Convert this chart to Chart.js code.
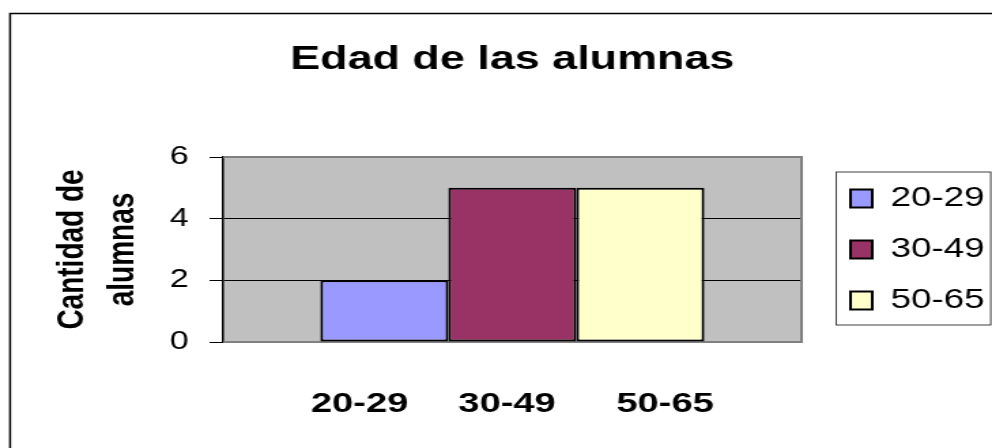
<!DOCTYPE html>
<html>
<head>
<meta charset="utf-8">
<script src="https://cdn.jsdelivr.net/npm/chart.js@4.4.1/dist/chart.umd.min.js"></script>
<style>
  html, body { margin: 0; padding: 0; background: #fff; overflow: hidden; }
  #chart { display: block; transform-origin: 0 0; }
</style>
</head>
<body>
<canvas id="chart" width="729" height="448"></canvas>
<script>
// Data
const ageGroups = ['20-29', '30-49', '50-65'];
const studentCounts = [2, 5, 5];
const barColors = ['#9999FF', '#993366', '#FFFFCC'];
const categories = ['20-29    \u200930-49     \u200950-65'];
const yTicks = [0, 2, 4, 6];

// The Excel picture is stretched sideways, so draw narrow and stretch the canvas
const STRETCH = 992 / 729;
const canvas = document.getElementById('chart');
canvas.style.transform = `scaleX(${STRETCH})`;

Chart.defaults.font.family = "'Liberation Sans', Arial, sans-serif";
Chart.defaults.color = '#000';

/**
 * Grey plot background, plot frame, outer border and legend box
 */
const excelFrame = {
    id: 'excelFrame',
    afterLayout(chart) {
        // title is centred over the plot, not the whole canvas
        const t = chart.titleBlock;
        t.left = chart.chartArea.left;
        t.right = chart.chartArea.right;
    },
    beforeDraw(chart) {
        const { ctx, chartArea: a } = chart;
        ctx.save();
        ctx.fillStyle = '#C0C0C0';
        ctx.fillRect(a.left, a.top, a.right - a.left, a.bottom - a.top);
        ctx.strokeStyle = '#000';
        ctx.lineWidth = 1.5;
        ctx.strokeRect(7.4, 13.5, chart.width + 20, chart.height + 20);
        ctx.restore();
    },
    beforeDatasetsDraw(chart) {
        const { ctx, chartArea: a } = chart;
        ctx.save();
        ctx.strokeStyle = '#808080';
        ctx.lineWidth = 2;
        ctx.beginPath();
        ctx.moveTo(a.left, a.top);
        ctx.lineTo(a.right, a.top);
        ctx.lineTo(a.right, a.bottom);
        ctx.lineTo(a.left, a.bottom);
        ctx.stroke();
        ctx.restore();
    },
    afterDraw(chart) {
        const boxes = chart.legend.legendHitBoxes;
        if (!boxes || !boxes.length) return;
        const first = boxes[0];
        const last = boxes[boxes.length - 1];
        const { ctx } = chart;
        ctx.save();
        ctx.strokeStyle = '#404040';
        ctx.lineWidth = 1;
        const x0 = first.left - 10.5;
        const y0 = first.top - 13;
        ctx.strokeRect(x0, y0, first.width + 15, last.top + last.height + 11 - y0);
        ctx.restore();
    }
};

const chart = new Chart(canvas, {
    type: 'bar',
    data: {
        labels: categories,
        datasets: ageGroups.map((name, i) => ({
            label: name,
            data: [studentCounts[i]],
            backgroundColor: barColors[i],
            borderColor: '#000',
            borderWidth: 2,
            borderSkipped: false
        }))
    },
    options: {
        responsive: false,
        animation: false,
        layout: { padding: 0 },
        datasets: {
            bar: { categoryPercentage: 0.664, barPercentage: 1 }
        },
        plugins: {
            title: {
                display: true,
                text: 'Edad de las alumnas',
                font: { size: 33, weight: 'bold' },
                padding: { top: 40.2, bottom: 77.2 }
            },
            legend: {
                position: 'right',
                fullSize: false,
                maxWidth: 128,
                labels: {
                    font: { size: 27 },
                    boxWidth: 16,
                    boxHeight: 18,
                    padding: 24
                }
            },
            tooltip: { enabled: false }
        },
        scales: {
            x: {
                grid: { display: false },
                border: { display: false },
                ticks: {
                    font: { size: 28, weight: 'bold' },
                    padding: 37,
                    maxRotation: 0,
                    autoSkip: false
                },
                afterFit(scale) { scale.height = 106; }
            },
            y: {
                min: yTicks[0],
                max: yTicks[yTicks.length - 1],
                ticks: {
                    stepSize: yTicks[1] - yTicks[0],
                    font: { size: 25 },
                    padding: 15.4
                },
                grid: {
                    color: (c) => (c.tick && (c.tick.value === yTicks[0] || c.tick.value === yTicks[yTicks.length - 1])) ? 'rgba(0,0,0,0)' : '#000',
                    tickColor: '#000',
                    tickLength: 10,
                    lineWidth: 1
                },
                border: { color: '#000', width: 1.5 },
                title: {
                    display: true,
                    text: ['Cantidad de', 'alumnas'],
                    font: { size: 28, weight: 'bold', lineHeight: 1.314 },
                    padding: { top: 34.6, bottom: 0 }
                },
                afterFit(scale) { scale.width = 164; }
            },
            // empty axis only used as a gap between the plot and the legend
            gap: {
                type: 'linear',
                position: 'right',
                grid: { display: false },
                border: { display: false },
                ticks: { display: false },
                afterFit(scale) { scale.width = 12; }
            }
        }
    },
    plugins: [excelFrame]
});
</script>
</body>
</html>
